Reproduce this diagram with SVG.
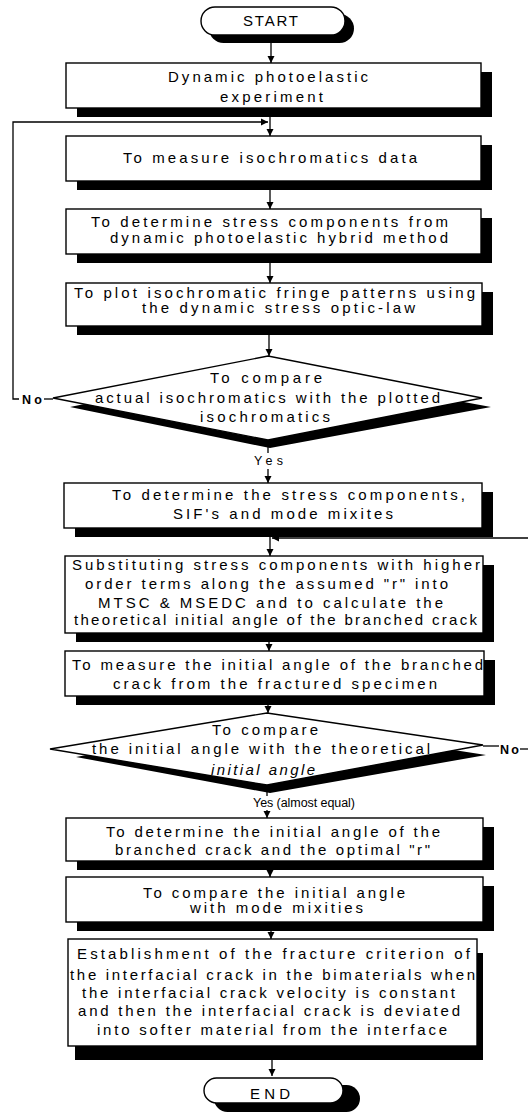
<svg xmlns="http://www.w3.org/2000/svg" width="528" height="1112" viewBox="0 0 528 1112">
<style>
.bg{fill:#fff}
.box{fill:#fff;stroke:#000;stroke-width:1.4}
.sh{fill:#000}
.t{font-family:"Liberation Sans",Arial,sans-serif;font-size:15px;fill:#000}
.s{font-family:"Liberation Sans",Arial,sans-serif;font-size:12.5px;fill:#000}
.ln{fill:none;stroke:#000;stroke-width:1.3}
</style>
<defs>
<marker id="ah" markerWidth="8" markerHeight="8" refX="7" refY="4" orient="auto" markerUnits="userSpaceOnUse">
<path d="M0,0.5 L7,4 L0,7.5 Z" fill="#000"/>
</marker>
</defs>
<rect class="bg" x="0" y="0" width="528" height="1112"/>

<g id="connectors">
<path class="ln" d="M271 35 V63" marker-end="url(#ah)"/>
<path class="ln" d="M270 115 V136" marker-end="url(#ah)"/>
<path class="ln" d="M19 399 H13 V122 H268" marker-end="url(#ah)"/>
<path class="ln" d="M44 399 H53"/>
<path class="ln" d="M270 190 V209" marker-end="url(#ah)"/>
<path class="ln" d="M270 263 V283" marker-end="url(#ah)"/>
<path class="ln" d="M269 335 V356" marker-end="url(#ah)"/>
<path class="ln" d="M268 440 V453"/>
<path class="ln" d="M268 469 V483" marker-end="url(#ah)"/>
<path class="ln" d="M270 537 V556" marker-end="url(#ah)"/>
<path class="ln" d="M528 538 H272" marker-end="url(#ah)"/>
<path class="ln" d="M269 642 V651" marker-end="url(#ah)"/>
<path class="ln" d="M268 705 V713" marker-end="url(#ah)"/>
<path class="ln" d="M483 746 H499"/>
<path class="ln" d="M520 749 H528"/>
<path class="ln" d="M267 785 V796"/>
<path class="ln" d="M267 810 V818" marker-end="url(#ah)"/>
<path class="ln" d="M270 870 V877" marker-end="url(#ah)"/>
<path class="ln" d="M271 930 V939" marker-end="url(#ah)"/>
<path class="ln" d="M272 1060 V1076" marker-end="url(#ah)"/>
<text class="s" x="22" y="404" textLength="20" font-weight="bold">No</text>
<text class="s" x="254" y="465" textLength="29">Yes</text>
<text class="s" x="500" y="754" textLength="19" font-weight="bold">No</text>
<text class="s" x="253" y="807" textLength="102">Yes (almost equal)</text>
</g>

<g id="start">
<rect class="sh" x="209" y="14" width="145" height="29" rx="14.5"/>
<rect class="box" x="201" y="7" width="144" height="28" rx="14"/>
<text class="t" x="243" y="26" textLength="55" font-size="14">START</text>
</g>

<g id="n1">
<rect class="sh" x="77" y="72" width="415" height="45"/>
<rect class="box" x="66" y="63" width="415" height="45"/>
<text class="t" x="168" y="82" textLength="200">Dynamic photoelastic</text>
<text class="t" x="220" y="102" textLength="103">experiment</text>
</g>

<g id="n2">
<rect class="sh" x="77" y="145" width="415" height="45"/>
<rect class="box" x="66" y="136" width="415" height="45"/>
<text class="t" x="123" y="163" textLength="294">To measure isochromatics data</text>
</g>

<g id="n3">
<rect class="sh" x="77" y="218" width="415" height="45"/>
<rect class="box" x="66" y="209" width="415" height="45"/>
<text class="t" x="91" y="227" textLength="357">To determine stress components from</text>
<text class="t" x="110" y="243" textLength="338">dynamic photoelastic hybrid method</text>
</g>

<g id="n4">
<rect class="sh" x="77" y="292" width="416" height="43"/>
<rect class="box" x="66" y="283" width="416" height="43"/>
<text class="t" x="74" y="298" textLength="401">To plot isochromatic fringe patterns using</text>
<text class="t" x="142" y="313" textLength="273">the dynamic stress optic-law</text>
</g>

<g id="d1">
<polygon class="sh" points="70,407 268,366 491,407 270,448"/>
<polygon class="box" points="53,398 268,356 482,398 268,440"/>
<text class="t" x="210" y="383" textLength="112">To compare</text>
<text class="t" x="95" y="403" textLength="345">actual isochromatics with the plotted</text>
<text class="t" x="200" y="422" textLength="130">isochromatics</text>
</g>

<g id="n5">
<rect class="sh" x="75" y="492" width="418" height="45"/>
<rect class="box" x="64" y="483" width="418" height="45"/>
<text class="t" x="112" y="500" textLength="353">To determine the stress components,</text>
<text class="t" x="173" y="519" textLength="220">SIF's and mode mixites</text>
</g>

<g id="n6">
<rect class="sh" x="76" y="565" width="418" height="77"/>
<rect class="box" x="65" y="556" width="418" height="77"/>
<text class="t" x="72" y="570" textLength="408">Substituting stress components with higher</text>
<text class="t" x="85" y="589" textLength="363">order terms along the assumed "r" into</text>
<text class="t" x="98" y="608" textLength="345">MTSC &amp; MSEDC and to calculate the</text>
<text class="t" x="74" y="625" textLength="403" font-size="14">theoretical initial angle of the branched crack</text>
</g>

<g id="n7">
<rect class="sh" x="76" y="660" width="419" height="45"/>
<rect class="box" x="65" y="651" width="419" height="45"/>
<text class="t" x="72" y="670" textLength="411">To measure the initial angle of the branched</text>
<text class="t" x="113" y="689" textLength="324">crack from the fractured specimen</text>
</g>

<g id="d2">
<polygon class="sh" points="76,757 267,721 486,755 270,793"/>
<polygon class="box" points="50,749 267,713 483,745 267,785"/>
<text class="t" x="212" y="735" textLength="106">To compare</text>
<text class="t" x="92" y="754" textLength="338">the initial angle with the theoretical</text>
<text class="t" x="211" y="775" textLength="104" font-style="italic">initial angle</text>
</g>

<g id="n8">
<rect class="sh" x="77" y="827" width="417" height="43"/>
<rect class="box" x="66" y="818" width="417" height="43"/>
<text class="t" x="106" y="837" textLength="334">To determine the initial angle of the</text>
<text class="t" x="115" y="855" textLength="315">branched crack and the optimal "r"</text>
</g>

<g id="n9">
<rect class="sh" x="77" y="886" width="417" height="45"/>
<rect class="box" x="66" y="877" width="417" height="45"/>
<text class="t" x="143" y="898" textLength="262">To compare the initial angle</text>
<text class="t" x="190" y="913" textLength="173">with mode mixities</text>
</g>

<g id="n10">
<rect class="sh" x="75" y="953" width="408" height="107"/>
<rect class="box" x="68" y="939" width="409" height="107"/>
<text class="t" x="77" y="959" textLength="393">Establishment of the fracture criterion of</text>
<text class="t" x="70" y="980" textLength="405">the interfacial crack in the bimaterials when</text>
<text class="t" x="82" y="998" textLength="373">the interfacial crack velocity is constant</text>
<text class="t" x="78" y="1016" textLength="382">and then the interfacial crack is deviated</text>
<text class="t" x="97" y="1035" textLength="350">into softer material from the interface</text>
</g>

<g id="end">
<rect class="sh" x="214" y="1085" width="146" height="27" rx="13.5"/>
<rect class="box" x="204" y="1078" width="139" height="25" rx="12.5"/>
<text class="t" x="250" y="1099" textLength="40" font-size="14">END</text>
</g>
</svg>
